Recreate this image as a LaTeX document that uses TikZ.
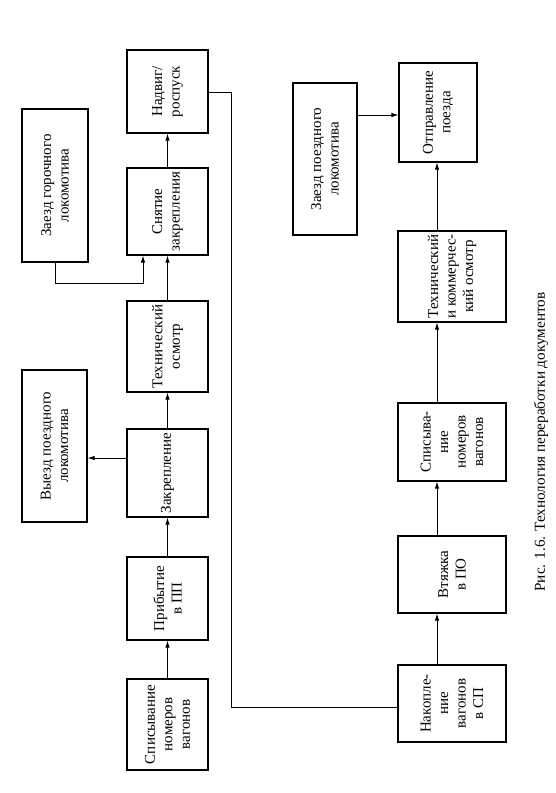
\documentclass[tikz,border=0pt]{standalone}
\usepackage{fontspec}
\setmainfont{Liberation Serif}
\usetikzlibrary{arrows.meta}
\begin{document}
\begin{tikzpicture}[x=1pt,y=1pt,
  box/.style={draw, line width=1.3pt, rotate=90, align=center, inner sep=1pt,
    font=\fontsize{15}{17.5}\selectfont},
  conn/.style={line width=0.8pt},
  arr/.style={conn, -{Latex[length=7pt,width=4.5pt]}}]
\useasboundingbox[fill=white] (0,0) rectangle (555,793);
% left column
\node[box, minimum width=83pt, minimum height=81pt] (nad) at (167.5,701.5) {Надвиг/\\роспуск};
\node[box, minimum width=87pt, minimum height=81pt] (snyat) at (167.5,581.5) {Снятие\\закрепления};
\node[box, minimum width=91pt, minimum height=81pt] (teh) at (167.5,446.5) {Технический\\осмотр};
\node[box, minimum width=88pt, minimum height=81pt] (zak) at (167.5,320) {Закрепление};
\node[box, minimum width=83pt, minimum height=81pt] (prib) at (167.5,194.5) {Прибытие\\в ПП};
\node[box, minimum width=91pt, minimum height=81pt] (spis) at (167.5,68.5) {Списывание\\номеров\\вагонов};
\node[box, minimum width=153pt, minimum height=66pt] (zaezdg) at (55,607.5) {Заезд горочного\\локомотива};
\node[box, minimum width=152pt, minimum height=65pt] (vyezd) at (54.5,347) {Выезд поездного\\локомотива};
% right column
\node[box, minimum width=99pt, minimum height=78pt] (otpr) at (438,680.5) {Отправление\\поезда};
\node[box, minimum width=152pt, minimum height=64pt] (zaezdp) at (325,634) {Заезд поездного\\локомотива};
\node[box, minimum width=91pt, minimum height=108pt] (tk) at (452,516.5) {Технический\\и коммерчес-\\кий осмотр};
\node[box, minimum width=78pt, minimum height=108pt] (spis2) at (452,351) {Списыва-\\ние\\номеров\\вагонов};
\node[box, minimum width=77pt, minimum height=108pt] (vtyazh) at (452,218.5) {Втяжка\\в ПО};
\node[box, minimum width=77pt, minimum height=108pt] (nak) at (452,89.5) {Накопле-\\ние\\вагонов\\в СП};
% caption
\node[rotate=90, font=\fontsize{15.2}{18}\selectfont] (cap) at (541,351) {Рис. 1.6. Технология переработки документов};
% left column arrows
\draw[arr] (spis.east) -- (prib.west);
\draw[arr] (prib.east) -- (zak.west);
\draw[arr] (zak.east) -- (teh.west);
\draw[arr] (teh.east) -- (snyat.west);
\draw[arr] (snyat.east) -- (nad.west);
\draw[arr] (zak.north |- 0,335) -- (vyezd.south |- 0,335);
\draw[arr] (zaezdg.west) |- (143,510) -- (143,0 |- snyat.west);
\draw[conn] (nad.south |- 0,701) -| (231,86) -- (nak.north |- 0,86);
% right column arrows
\draw[arr] (437,0 |- nak.east) -- (437,0 |- vtyazh.west);
\draw[arr] (437,0 |- vtyazh.east) -- (437,0 |- spis2.west);
\draw[arr] (437,0 |- spis2.east) -- (437,0 |- tk.west);
\draw[arr] (437,0 |- tk.east) -- (437,0 |- otpr.west);
\draw[arr] (zaezdp.south |- 0,678) -- (otpr.north |- 0,678);
\end{tikzpicture}
\end{document}
